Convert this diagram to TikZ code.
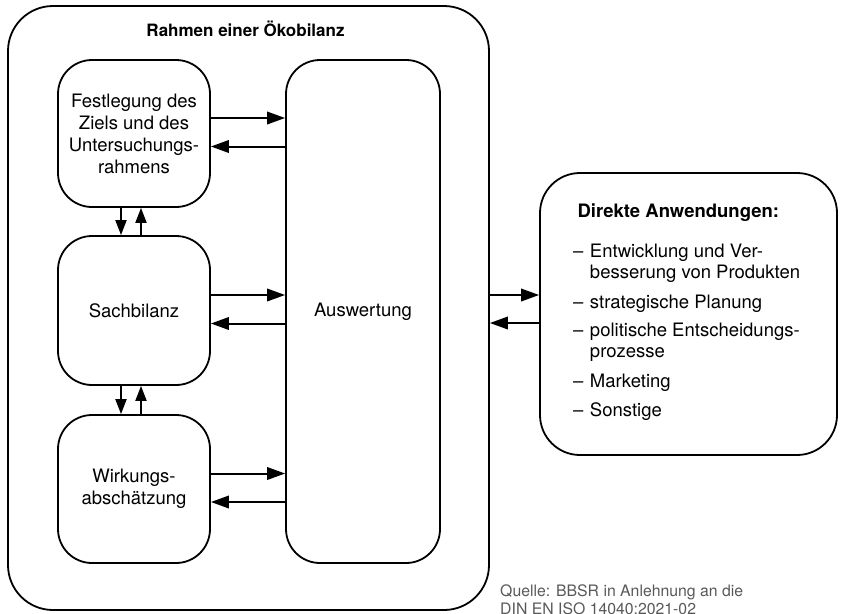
\documentclass[tikz,border=0pt]{standalone}
\usepackage{fontspec}
\setmainfont{TeX Gyre Heros}
\usepackage{tikz}
\usetikzlibrary{positioning,arrows.meta}

\tikzset{
  kasten/.style={draw=black, line width=1.8pt, rounded corners=34pt, align=center,
                 minimum width=152pt},
  pfeil/.style={-{Triangle[length=18pt,width=12.5pt]}, line width=2pt},
  kurzpfeil/.style={-{Triangle[length=15pt,width=11pt]}, line width=2pt},
}

\begin{document}
\begin{tikzpicture}[x=1pt, y=-1pt, font=\fontsize{18.5}{22}\selectfont]
                \useasboundingbox (0,0) rectangle (842,613);

                % Rahmen
                \node[kasten, rounded corners=45pt, minimum width=481pt, minimum height=604pt]
                      (rahmen) at (248.5,308) {};
                \node[font=\fontsize{17}{20}\selectfont\bfseries, anchor=base]
                      (titel)  at (245.5,36)  {Rahmen einer Ökobilanz};

                \node[kasten, minimum height=147pt] (fest) at (134,133.5)
                      {Festlegung des\\Ziels und des\\Untersuchungs-\\rahmens};
                \node[kasten, minimum height=149pt] (sach) at (134,310.5) {Sachbilanz};
                \node[kasten, minimum height=148pt] (wirk) at (134,489)
                      {Wirkungs-\\abschätzung};
                \node[kasten, minimum width=154pt, minimum height=503pt]
                      (ausw) at (363,311.5) {Auswertung};

                % Anwendungen
                \node[kasten, rounded corners=40pt, minimum width=297pt, minimum height=282pt]
                      (anw)   at (688.5,314) {};
                \node[font=\fontsize{18.5}{22}\selectfont\bfseries, anchor=base west]
                      (anwtitel) at (574,217) {Direkte Anwendungen:};
                \node[anchor=base west, inner sep=0pt, font=\fontsize{18.5}{21}\selectfont]
                      (liste) at (573,257) {%
                  \begin{tabular}[t]{@{}l@{\hspace{6.5pt}}l@{}}
                    -- & Entwicklung und Ver-\\
                       & besserung von Produkten\\[9pt]
                    -- & strategische Planung\\[7pt]
                    -- & politische Entscheidungs-\\
                       & prozesse\\[9pt]
                    -- & Marketing\\[8pt]
                    -- & Sonstige
                  \end{tabular}};

                \node[anchor=base west, inner sep=0pt, text=black!65,
                      font=\fontsize{15.8}{18}\selectfont]
                      (quelle) at (500,596) {%
                  \begin{tabular}[t]{@{}l@{}}
                    Quelle: BBSR in Anlehnung an die\\
                    DIN EN ISO 14040:2021-02
                  \end{tabular}};

                % Pfeile
                \foreach \b in {fest,sach,wirk} {
                  \draw[pfeil] ([yshift=15.5pt]\b.east) -- ([yshift=15.5pt]\b.east -| ausw.west);
                  \draw[pfeil] ([yshift=-13pt]\b.east -| ausw.west) -- ([yshift=-13pt]\b.east);
                }
                \draw[kurzpfeil] ([xshift=-13pt]fest.south) -- ([xshift=-13pt]fest.south |- sach.north);
                \draw[kurzpfeil] ([xshift=7pt]fest.south |- sach.north) -- ([xshift=7pt]fest.south);
                \draw[kurzpfeil] ([xshift=-13pt]sach.south) -- ([xshift=-13pt]sach.south |- wirk.north);
                \draw[kurzpfeil] ([xshift=7pt]sach.south |- wirk.north) -- ([xshift=7pt]sach.south);

                \draw[pfeil] ([yshift=13pt]rahmen.east) -- ([yshift=13pt]rahmen.east -| anw.west);
                \draw[pfeil] ([yshift=-15pt]rahmen.east -| anw.west) -- ([yshift=-15pt]rahmen.east);
            \end{tikzpicture}
\end{document}
